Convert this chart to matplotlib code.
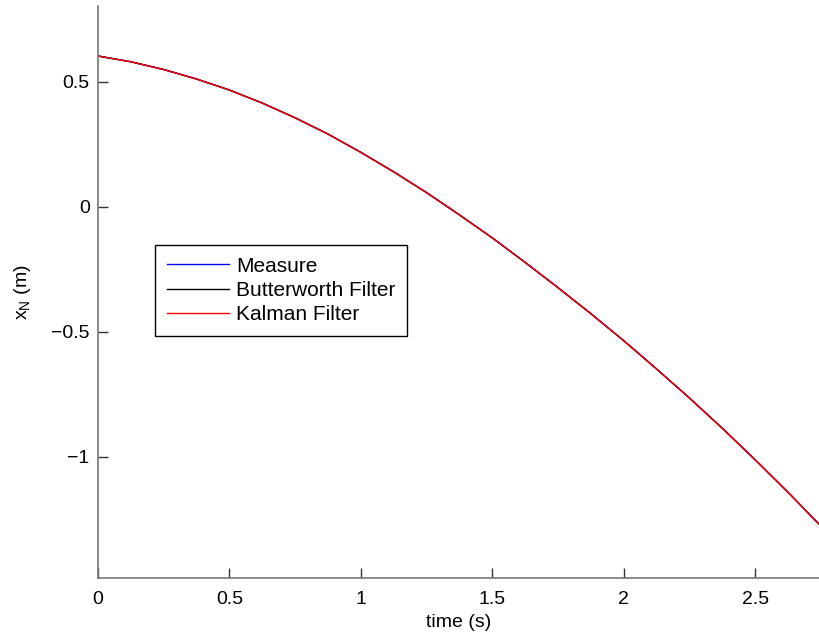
import matplotlib
matplotlib.use("Agg")
import matplotlib.pyplot as plt

plt.rcParams['font.family'] = ['Liberation Sans', 'DejaVu Sans']

time_s = [0.0, 0.125, 0.25, 0.375, 0.5, 0.625, 0.75, 0.875, 1.0, 1.125, 1.25, 1.375,
          1.5, 1.625, 1.75, 1.875, 2.0, 2.125, 2.25, 2.375, 2.5, 2.625, 2.75]
measure = [0.603, 0.580, 0.549, 0.511, 0.467, 0.415, 0.356, 0.291, 0.218, 0.140, 0.057, -0.032,
           -0.124, -0.222, -0.323, -0.427, -0.535, -0.648, -0.764, -0.885, -1.011, -1.141, -1.276]
butterworth = [0.603, 0.580, 0.549, 0.511, 0.467, 0.415, 0.356, 0.291, 0.218, 0.140, 0.057, -0.032,
               -0.124, -0.222, -0.323, -0.427, -0.535, -0.648, -0.764, -0.885, -1.011, -1.141, -1.276]
kalman = [0.603, 0.580, 0.549, 0.511, 0.467, 0.415, 0.356, 0.291, 0.218, 0.140, 0.057, -0.032,
          -0.124, -0.222, -0.323, -0.427, -0.535, -0.648, -0.764, -0.885, -1.011, -1.141, -1.276]
labels = ['Measure', 'Butterworth Filter', 'Kalman Filter']
xticks = [0, 0.5, 1, 1.5, 2, 2.5]
xticklabels = ['0', '0.5', '1', '1.5', '2', '2.5']
yticks = [-1, -0.5, 0, 0.5]
yticklabels = ['\u22121', '\u22120.5', '0', '0.5']

fig = plt.figure(figsize=(8.2, 6.42), dpi=100)
ax = fig.add_axes([98/820, 1 - 578/642, 722/820, 572/642])

ax.plot(time_s, measure, color='#0000ff', lw=1.0, label=labels[0])
ax.plot(time_s, butterworth, color='#000000', lw=1.0, label=labels[1])
ax.plot(time_s, kalman, color='#ff0000', lw=1.0, label=labels[2])

ax.set_xlim(0, 2.747)
ax.set_ylim(-1.484, 0.803)
ax.set_xticks(xticks)
ax.set_xticklabels(xticklabels)
ax.set_yticks(yticks)
ax.set_yticklabels(yticklabels)

for s in ['top', 'right']:
    ax.spines[s].set_visible(False)
for s in ['left', 'bottom']:
    ax.spines[s].set_color('#777777')
    ax.spines[s].set_linewidth(1.2)
ax.tick_params(direction='in', length=7, width=1, colors='#333333', labelcolor='black',
               labelsize=14)
ax.tick_params(axis='x', pad=9)
ax.tick_params(axis='y', pad=6)

ax.set_xlabel('time (s)', fontsize=14, labelpad=5)
ax.set_ylabel(r'x$_\mathregular{N}$ (m)', fontsize=14, labelpad=13)

leg = ax.legend(loc='upper left', bbox_to_anchor=(0.079, 0.582), borderaxespad=0,
                fontsize=15, fancybox=False, framealpha=1, edgecolor='black',
                handlelength=3.0, handletextpad=0.34, labelspacing=0.25,
                borderpad=0.56)
leg.get_frame().set_linewidth(1.0)

fig.savefig('out.png', dpi=100)
